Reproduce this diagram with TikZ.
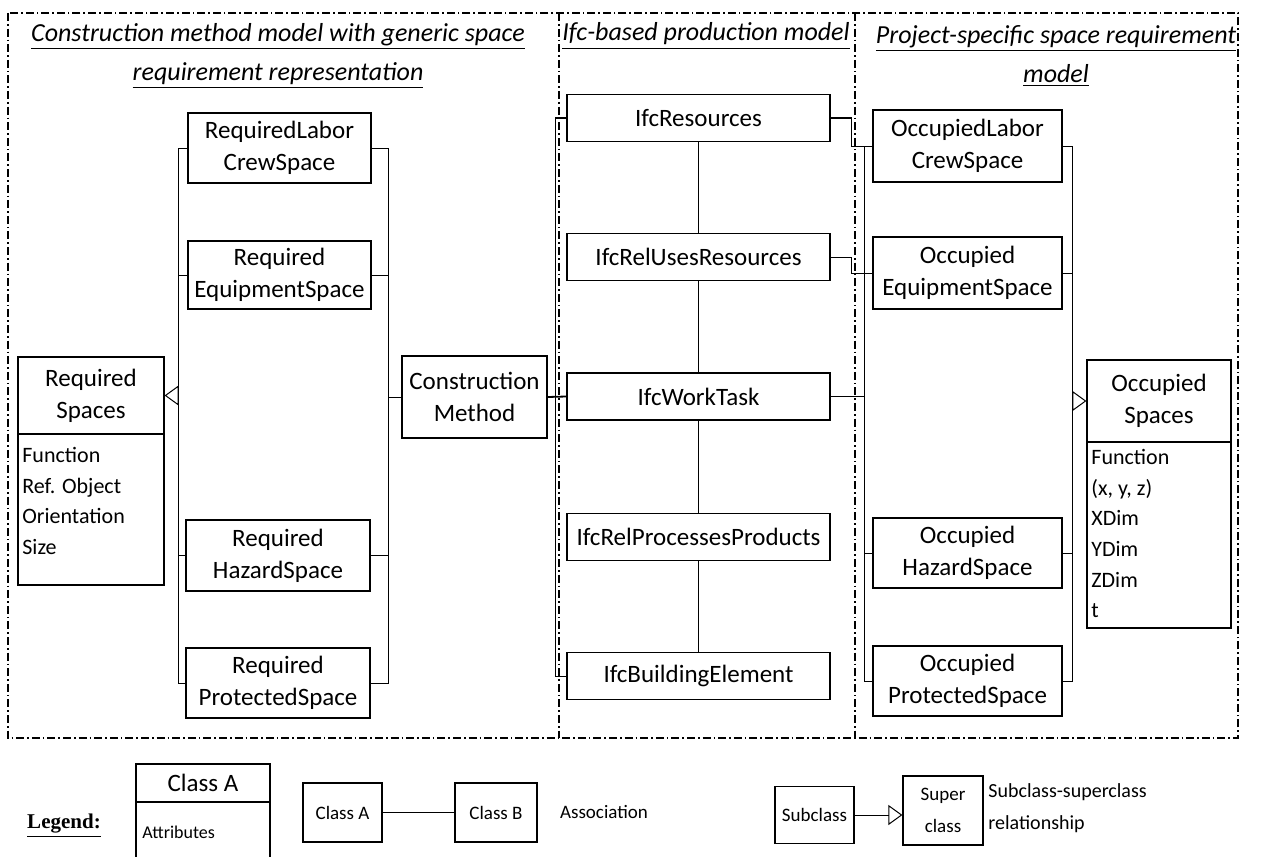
\documentclass[tikz,border=0pt]{standalone}
\usepackage{fontspec}
\setmainfont{Carlito}
\newfontfamily\legfont{Liberation Serif}
\usetikzlibrary{arrows.meta,calc}
\tikzset{
  frame/.style={line width=0.6pt, dash pattern=on 4pt off 1.5pt on 0.8pt off 1.5pt},
  cls/.style={draw, line width=0.6pt, align=center, inner sep=0pt, font=\fontsize{12.5}{16}\selectfont},
  attrtxt/.style={align=left, inner sep=0pt, font=\fontsize{11}{15.3}\selectfont},
  ttl/.style={align=center, inner sep=0pt, font=\itshape\fontsize{13}{19.5}\selectfont},
  conn/.style={line width=0.5pt},
  gen/.style={-{Triangle[open,length=7pt,width=10pt]}},
  legbox/.style={draw, line width=0.6pt, align=center, inner sep=0pt, font=\fontsize{9.5}{16}\selectfont},
}
\begin{document}
\begin{tikzpicture}[x=0.5pt,y=-0.5pt]
\useasboundingbox (0,0) rectangle (1262,856);
% frames
\draw[frame] (8,13) rectangle (1238,738);
\draw[frame] (559,13) -- (559,738);
\draw[frame] (855,13) -- (855,738);
% titles
\node[ttl] (t1) at (278,56) {\underline{Construction method model with generic space}\\\underline{requirement representation}};
\node[ttl] (t2) at (706,36) {\underline{Ifc-based production model}};
\node[ttl] (t3) at (1056,56) {\underline{Project-specific space requirement}\\\underline{model}};
% column 1
\node[cls, minimum width=73pt, minimum height=38.5pt] (RSh) at (91,395.5) {Required\\Spaces};
\node[draw, line width=0.6pt, minimum width=73pt, minimum height=75.5pt, inner sep=0pt] (RSa) at (91,509.5) {};
\node[attrtxt, anchor=north west] (RSt) at (22,447) {Function\\Ref. Object\\Orientation\\Size};
\node[cls, minimum width=91.5pt, minimum height=35pt] (RLab) at (279.5,148) {RequiredLabor\\CrewSpace};
\node[cls, minimum width=91.5pt, minimum height=34pt] (REq) at (279.5,275) {Required\\EquipmentSpace};
\node[cls, minimum width=92pt, minimum height=35.5pt] (RHz) at (278,555.5) {Required\\HazardSpace};
\node[cls, minimum width=92pt, minimum height=35pt] (RPr) at (278,683) {Required\\ProtectedSpace};
\node[cls, minimum width=72.5pt, minimum height=41pt] (CM) at (474.5,397) {Construction\\Method};
\coordinate (lb) at (178,0);
\coordinate (rb) at (388,0);
\draw[conn] (RLab.west) -- (RLab.west -| lb) -- (RPr.west -| lb) -- (RPr.west);
\draw[conn] (REq.west) -- (REq.west -| lb);
\draw[conn] (RHz.west) -- (RHz.west -| lb);
\draw[conn] (RLab.east) -- (RLab.east -| rb) -- (RPr.east -| rb) -- (RPr.east);
\draw[conn] (REq.east) -- (REq.east -| rb);
\draw[conn] (RHz.east) -- (RHz.east -| rb);
\draw[conn,gen] (RSh.east -| lb) -- (RSh.east);
\draw[conn] (CM.west -| rb) -- (CM.west);
% column 2
\node[cls, minimum width=131.5pt, minimum height=23.5pt] (IR) at (698.5,118) {IfcResources};
\node[cls, minimum width=131.5pt, minimum height=23.5pt] (IRU) at (698.5,257) {IfcRelUsesResources};
\node[cls, minimum width=131.5pt, minimum height=23.5pt] (WT) at (698.5,396.5) {IfcWorkTask};
\node[cls, minimum width=131.5pt, minimum height=23.5pt] (IRP) at (698.5,537) {IfcRelProcessesProducts};
\node[cls, minimum width=131.5pt, minimum height=23.5pt] (IB) at (698.5,676) {IfcBuildingElement};
\draw[conn] (IR.south) -- (IRU.north) (IRU.south) -- (WT.north) (WT.south) -- (IRP.north) (IRP.south) -- (IB.north);
\draw[line width=0.9pt] (CM.east) -- (WT.west);
\coordinate (cb) at (555,0);
\draw[conn] (IR.west) -- (IR.west -| cb) -- (IB.west -| cb) -- (IB.west);
% column 3
\node[cls, minimum width=94.5pt, minimum height=36pt] (OLab) at (967.5,146) {OccupiedLabor\\CrewSpace};
\node[cls, minimum width=94.5pt, minimum height=36pt] (OEq) at (967.5,273) {Occupied\\EquipmentSpace};
\node[cls, minimum width=94.5pt, minimum height=35pt] (OHz) at (967.5,553) {Occupied\\HazardSpace};
\node[cls, minimum width=94.5pt, minimum height=35pt] (OPr) at (967.5,681) {Occupied\\ProtectedSpace};
\node[cls, minimum width=72pt, minimum height=41pt] (OSh) at (1159,401) {Occupied\\Spaces};
\node[draw, line width=0.6pt, minimum width=72pt, minimum height=93pt, inner sep=0pt] (OSa) at (1159,535) {};
\node[attrtxt, anchor=north west] (OSt) at (1091,449) {Function\\(x, y, z)\\XDim\\YDim\\ZDim\\t};
\coordinate (eb) at (851,0);
\draw[conn] (IR.east) -- (IR.east -| eb) |- (OLab.west);
\draw[conn] (IRU.east) -- (IRU.east -| eb) |- (OEq.west);
\coordinate (l3) at (864,0);
\coordinate (r3) at (1072,0);
\draw[conn] (WT.east) -- (WT.east -| l3);
\draw[conn] (OLab.west) -- (OLab.west -| l3) -- (OPr.west -| l3) -- (OPr.west);
\draw[conn] (OEq.west) -- (OEq.west -| l3);
\draw[conn] (OHz.west) -- (OHz.west -| l3);
\draw[conn] (OLab.east) -- (OLab.east -| r3) -- (OPr.east -| r3) -- (OPr.east);
\draw[conn] (OEq.east) -- (OEq.east -| r3);
\draw[conn] (OHz.east) -- (OHz.east -| r3);
\draw[conn,gen] (OSh.west -| r3) -- (OSh.west);
% legend
\node[inner sep=0pt, font=\legfont\bfseries\fontsize{10.5}{13}\selectfont] (leg) at (64,826) {\underline{Legend:}};
\node[cls, minimum width=67pt, minimum height=19pt] (LH) at (203,783) {Class A};
\node[draw, line width=0.6pt, minimum width=67pt, minimum height=30pt, inner sep=0pt] (LA) at (203,832) {};
\node[inner sep=0pt, anchor=west, font=\fontsize{9}{11}\selectfont] (LAt) at (142,832) {Attributes};
\node[legbox, minimum width=39.5pt, minimum height=29.5pt] (CA) at (342.5,812.5) {Class A};
\node[legbox, minimum width=41pt, minimum height=29.5pt] (CB) at (496,812.5) {Class B};
\draw[line width=0.7pt] (CA.east) -- (CB.west);
\node[inner sep=0pt, font=\fontsize{9.5}{11}\selectfont] (AS) at (604,812) {Association};
\node[legbox, minimum width=39.5pt, minimum height=28.5pt] (Sub) at (814.5,815) {Subclass};
\node[legbox, minimum width=40pt, minimum height=34.5pt] (Sup) at (943,810.5) {Super\\class};
\draw[conn,gen] (Sub.east) -- (Sub.east -| Sup.west);
\node[inner sep=0pt, anchor=west, align=left, font=\fontsize{10}{16}\selectfont] (SD) at (988,808) {Subclass-superclass\\relationship};
\end{tikzpicture}
\end{document}
